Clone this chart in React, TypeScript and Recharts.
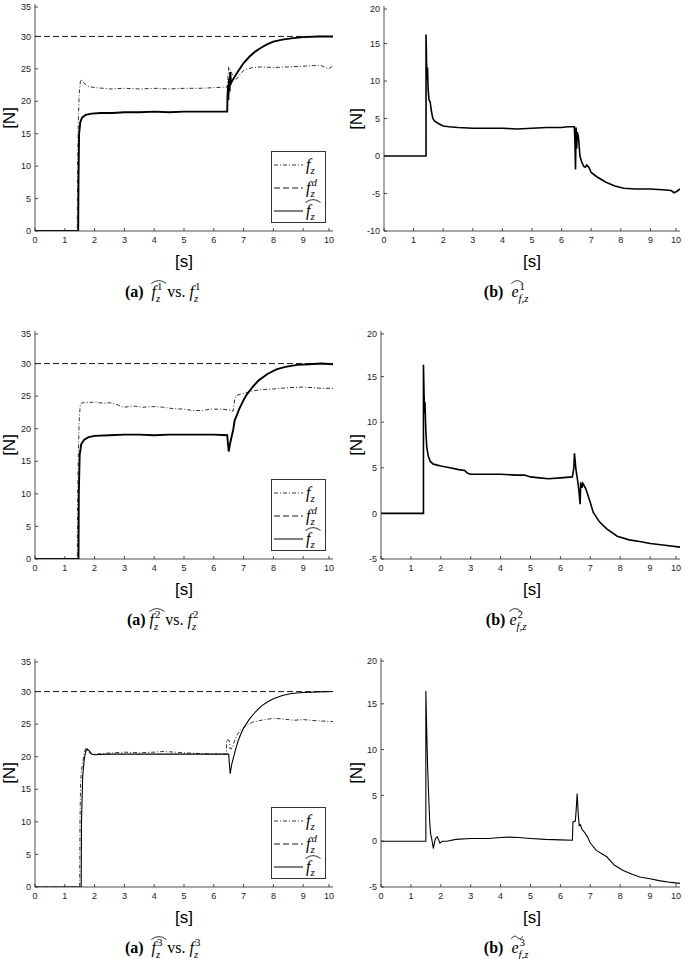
import React from 'react'
import { LineChart, Line, XAxis, YAxis, Legend } from 'recharts'

type Pt = [number, number]

// tick values
const X_TICKS = [0, 1, 2, 3, 4, 5, 6, 7, 8, 9, 10]
const F_TICKS = [0, 5, 10, 15, 20, 25, 30, 35]
const E1_TICKS = [-10, -5, 0, 5, 10, 15, 20]
const E23_TICKS = [-5, 0, 5, 10, 15, 20]

// desired force (same in all three left panels)
const fzDesired: Pt[] = [[0, 30], [10, 30]]

// ---- run 1 ----
const fzMeas1: Pt[] = [
  [0, 0], [1.42, 0], [1.43, 10], [1.45, 16], [1.48, 21], [1.52, 23], [1.55, 23.4], [1.6, 23.0],
  [1.7, 22.6], [1.8, 22.3], [2.0, 22.1], [2.3, 22.0], [2.5, 21.9], [3.0, 22.0], [3.5, 21.9],
  [4.0, 22.0], [4.5, 21.9], [5.0, 22.0], [5.5, 22.0], [6.0, 22.1], [6.45, 22.2], [6.47, 23.5],
  [6.5, 25.3], [6.58, 24.5], [6.68, 23.6], [6.76, 23.4], [6.9, 24.3], [7.05, 24.9], [7.3, 25.2],
  [7.6, 25.3], [8.0, 25.2], [8.5, 25.3], [9.0, 25.4], [9.3, 25.5], [9.6, 25.5], [9.75, 25.2],
  [9.85, 25.0], [9.95, 25.3], [10, 25.5],
]
const fzHat1: Pt[] = [
  [0, 0], [1.45, 0], [1.46, 8], [1.48, 15], [1.52, 16.8], [1.58, 17.5], [1.7, 17.9], [1.9, 18.1],
  [2.2, 18.2], [2.6, 18.2], [3.0, 18.3], [3.5, 18.3], [4.0, 18.4], [4.5, 18.3], [5.0, 18.4],
  [5.5, 18.4], [6.0, 18.4], [6.45, 18.4], [6.46, 20.8], [6.48, 22.5], [6.49, 20.2], [6.51, 23.5],
  [6.53, 21.5], [6.55, 24.5], [6.58, 22.8], [6.6, 23.0], [6.7, 23.8], [6.8, 24.5], [6.9, 25.2],
  [7.0, 25.9], [7.2, 26.9], [7.4, 27.7], [7.6, 28.3], [7.8, 28.8], [8.0, 29.2], [8.3, 29.5],
  [8.6, 29.7], [9.0, 29.9], [9.5, 30.0], [10, 30.0],
]
const err1: Pt[] = [
  [0, 0], [1.42, 0], [1.42, 16.2], [1.44, 12], [1.45, 10.2], [1.47, 11.8], [1.49, 9], [1.52, 7.5],
  [1.56, 7.2], [1.6, 6.0], [1.65, 5.0], [1.72, 4.6], [1.85, 4.3], [2.0, 4.0], [2.2, 3.9], [2.5, 3.8],
  [3.0, 3.7], [3.5, 3.7], [4.0, 3.7], [4.5, 3.6], [5.0, 3.7], [5.5, 3.8], [6.0, 3.8], [6.2, 3.9],
  [6.43, 3.9], [6.45, 2], [6.47, -1.8], [6.49, 3.8], [6.51, 1.0], [6.53, 3.2], [6.57, 2.5],
  [6.62, 0.0], [6.68, -0.8], [6.75, -1.4], [6.8, -1.5], [6.85, -1.2], [6.92, -1.5], [7.0, -2.2],
  [7.2, -2.8], [7.5, -3.5], [7.8, -4.0], [8.1, -4.3], [8.5, -4.4], [9.0, -4.4], [9.4, -4.5],
  [9.7, -4.6], [9.8, -4.9], [9.9, -4.7], [10, -4.4],
]

// ---- run 2 ----
const fzMeas2: Pt[] = [
  [0, 0], [1.42, 0], [1.43, 8], [1.45, 15], [1.48, 21], [1.52, 23.8], [1.6, 24.0], [1.8, 24.0],
  [2.0, 24.1], [2.3, 23.9], [2.5, 24.0], [2.7, 23.8], [2.9, 23.4], [3.0, 23.3], [3.3, 23.5],
  [3.6, 23.3], [4.0, 23.4], [4.3, 23.3], [4.6, 23.1], [5.0, 23.0], [5.3, 22.8], [5.6, 22.8],
  [5.9, 23.0], [6.2, 23.0], [6.5, 22.9], [6.65, 22.7], [6.7, 24.5], [6.75, 25.1], [6.9, 25.3],
  [7.0, 25.4], [7.3, 25.8], [7.6, 26.0], [8.0, 26.1], [8.5, 26.3], [9.0, 26.4], [9.3, 26.3],
  [9.6, 26.2], [10, 26.2],
]
const fzHat2: Pt[] = [
  [0, 0], [1.46, 0], [1.47, 10], [1.5, 16], [1.55, 17.6], [1.65, 18.3], [1.8, 18.7], [2.0, 18.9],
  [2.5, 19.0], [3.0, 19.1], [3.5, 19.1], [4.0, 19.0], [4.5, 19.1], [5.0, 19.1], [5.5, 19.1],
  [6.0, 19.1], [6.45, 19.0], [6.5, 16.5], [6.55, 17.8], [6.6, 18.8], [6.65, 19.8], [6.7, 21.3],
  [6.75, 21.8], [6.85, 23.0], [7.0, 24.4], [7.1, 25.2], [7.3, 26.4], [7.5, 27.4], [7.8, 28.4],
  [8.1, 29.1], [8.4, 29.5], [8.8, 29.8], [9.2, 29.9], [9.6, 30.0], [10, 29.9],
]
const err2: Pt[] = [
  [0, 0], [1.42, 0], [1.42, 16.3], [1.44, 13], [1.46, 11], [1.47, 12.2], [1.5, 9], [1.53, 7.3],
  [1.58, 6.3], [1.65, 5.7], [1.75, 5.4], [2.0, 5.2], [2.3, 5.0], [2.6, 4.8], [2.8, 4.7], [2.9, 4.4],
  [3.0, 4.3], [3.5, 4.3], [4.0, 4.3], [4.5, 4.2], [4.8, 4.2], [5.0, 4.0], [5.3, 3.9], [5.6, 3.8],
  [6.0, 3.9], [6.4, 4.0], [6.45, 5.0], [6.47, 6.6], [6.52, 4.8], [6.58, 3.5], [6.62, 2.5],
  [6.66, 1.0], [6.68, 3.4], [6.72, 2.8], [6.75, 3.3], [6.85, 2.7], [7.0, 1.2], [7.1, 0.1],
  [7.3, -0.9], [7.55, -1.7], [7.9, -2.5], [8.3, -2.9], [8.7, -3.1], [9.0, -3.3], [9.5, -3.5],
  [10, -3.7],
]

// ---- run 3 ----
const fzMeas3: Pt[] = [
  [0, 0], [1.5, 0], [1.51, 10], [1.53, 16], [1.56, 18], [1.6, 19], [1.65, 20.5], [1.7, 21.3],
  [1.75, 21.0], [1.8, 20.7], [1.9, 20.4], [2.0, 20.4], [2.3, 20.5], [2.6, 20.6], [3.0, 20.7],
  [3.5, 20.6], [4.0, 20.7], [4.3, 20.8], [4.7, 20.7], [5.0, 20.6], [5.5, 20.5], [6.0, 20.4],
  [6.42, 20.4], [6.43, 22.6], [6.52, 22.5], [6.55, 21.2], [6.62, 21.3], [6.7, 22.5], [6.8, 23.5],
  [6.9, 24.1], [7.1, 24.8], [7.3, 25.3], [7.6, 25.6], [8.0, 25.9], [8.3, 25.8], [8.7, 25.6],
  [9.0, 25.7], [9.5, 25.5], [10, 25.4],
]
const fzHat3: Pt[] = [
  [0, 0], [1.55, 0], [1.56, 10], [1.6, 17], [1.65, 19.5], [1.7, 20.8], [1.75, 21.2], [1.82, 20.9],
  [1.9, 20.4], [2.0, 20.3], [2.5, 20.4], [3.0, 20.4], [3.5, 20.4], [4.0, 20.4], [4.5, 20.4],
  [5.0, 20.4], [5.5, 20.4], [6.0, 20.4], [6.5, 20.4], [6.52, 19], [6.55, 17.4], [6.6, 18.8],
  [6.7, 20.6], [6.8, 22.2], [6.9, 23.4], [7.0, 24.4], [7.2, 25.8], [7.4, 26.9], [7.6, 27.8],
  [7.8, 28.4], [8.0, 28.9], [8.3, 29.4], [8.6, 29.7], [9.0, 29.85], [9.5, 29.95], [10, 30.0],
]
const err3: Pt[] = [
  [0, 0], [1.5, 0], [1.5, 16.4], [1.53, 12], [1.56, 8], [1.6, 4.5], [1.63, 2], [1.66, 0.8],
  [1.7, 0.2], [1.75, -0.8], [1.78, -0.3], [1.82, 0.3], [1.88, 0.5], [1.92, 0.2], [1.97, -0.2],
  [2.05, 0.0], [2.2, 0.0], [2.5, 0.2], [3.0, 0.3], [3.3, 0.3], [3.6, 0.3], [4.0, 0.4], [4.3, 0.45],
  [4.6, 0.4], [5.0, 0.3], [5.5, 0.2], [6.0, 0.15], [6.4, 0.1], [6.42, 2.1], [6.5, 2.2], [6.53, 3.5],
  [6.56, 5.2], [6.6, 2.8], [6.63, 1.7], [6.67, 1.8], [6.72, 1.3], [6.8, 1.0], [6.9, 0.5],
  [7.0, -0.2], [7.2, -1.0], [7.55, -1.7], [7.8, -2.6], [8.1, -3.2], [8.4, -3.6], [8.65, -3.9],
  [9.0, -4.1], [9.3, -4.3], [9.7, -4.5], [10, -4.6],
]

const SANS = '"Liberation Sans", Arial, sans-serif'
const SERIF = '"Liberation Serif", "Times New Roman", serif'
const AX = '#222'
const DASHDOT = '4 2 1 2'
const DASHED = '6 3'

interface Series { pts: Pt[]; dash?: string; width: number }
interface Box { x: number; y: number; w: number; h: number }

const toRows = (pts: Pt[]) => pts.map(([t, v]) => ({ t, v }))

function BottomTick({ x, y, payload }: any) {
  return (
    <g>
      <line x1={x} y1={y} x2={x} y2={y - 3} stroke={AX} strokeWidth={0.8} />
      <text x={x} y={y + 12} textAnchor="middle" fontSize={9} fontFamily={SANS} fill="#222">{payload.value}</text>
    </g>
  )
}
function TopTick({ x, y }: any) {
  return <line x1={x} y1={y} x2={x} y2={y + 3} stroke={AX} strokeWidth={0.8} />
}
function LeftTick({ x, y, payload }: any) {
  return (
    <g>
      <line x1={x} y1={y} x2={x + 3} y2={y} stroke={AX} strokeWidth={0.8} />
      <text x={x - 4} y={y} dy="0.35em" textAnchor="end" fontSize={9} fontFamily={SANS} fill="#222">{payload.value}</text>
    </g>
  )
}
function RightTick({ x, y }: any) {
  return <line x1={x} y1={y} x2={x - 3} y2={y} stroke={AX} strokeWidth={0.8} />
}

// italic symbol with stacked super/subscript and optional wide accent
function Sym({ base, sub, sup, accent, size = 16, upSup = false }: {
  base: string; sub?: string; sup?: string; accent?: 'hat' | 'tilde'; size?: number; upSup?: boolean
}) {
  const s = size * 0.68
  const chars = Math.max(sub ? sub.length : 0, sup ? sup.length : 0)
  const aw = size * (sub && sub.length > 1 ? 0.8 : 1.0)
  return (
    <span style={{ position: 'relative', display: 'inline-block', fontFamily: SERIF, fontSize: size, lineHeight: 1 }}>
      {accent && (
        <svg style={{ position: 'absolute', left: -1, top: -size * 0.3 }} width={aw} height={size * 0.3}>
          {accent === 'hat'
            ? <path d={`M0.5 ${size * 0.28} Q${aw / 2} ${-size * 0.08} ${aw - 0.5} ${size * 0.28}`} fill="none" stroke="#000" strokeWidth={0.8} />
            : <path d={`M0.5 ${size * 0.25} Q${aw / 4} ${-size * 0.05} ${aw / 2} ${size * 0.15} T${aw - 0.5} ${size * 0.05}`} fill="none" stroke="#000" strokeWidth={0.8} />}
        </svg>
      )}
      <i>{base}</i>
      <span style={{ position: 'relative', display: 'inline-block', width: s * 0.48 * chars + 2, height: size * 0.7 }}>
        {sup && (
          <span style={{ position: 'absolute', left: 1, top: -size * 0.3, fontSize: s, lineHeight: 1, fontStyle: upSup ? 'normal' : 'italic' }}>{sup}</span>
        )}
        {sub && (
          <span style={{ position: 'absolute', left: 0, top: size * 0.42, fontSize: s, lineHeight: 1, fontStyle: 'italic', whiteSpace: 'nowrap' }}>{sub}</span>
        )}
      </span>
    </span>
  )
}

function LegendBox() {
  const rows = [
    { dash: DASHDOT, w: 0.8, label: <Sym base="f" sub="z" size={16} /> },
    { dash: DASHED, w: 0.9, label: <Sym base="f" sub="z" sup="d" size={16} /> },
    { dash: undefined, w: 1, label: <Sym base="f" sub="z" accent="hat" size={16} /> },
  ]
  return (
    <div style={{ width: 55, height: 72, border: '1px solid #333', background: '#fff', boxSizing: 'border-box', paddingTop: 1 }}>
      {rows.map((r, i) => (
        <div key={i} style={{ height: 23, display: 'flex', alignItems: 'center' }}>
          <svg width={29} height={4} style={{ marginLeft: 2 }}>
            <line x1={0} y1={2} x2={29} y2={2} stroke="#000" strokeWidth={r.w} strokeDasharray={r.dash} />
          </svg>
          <span style={{ marginLeft: 3 }}>{r.label}</span>
        </div>
      ))}
    </div>
  )
}

const YW = 34
const MT = 6
const RM = 4
const XH = 20

function Panel({ box, yDomain, yTicks, series, legend }: {
  box: Box; yDomain: [number, number]; yTicks: number[]; series: Series[]; legend?: boolean
}) {
  return (
    <div style={{ position: 'absolute', left: box.x - YW, top: box.y - MT }}>
      <LineChart width={YW + box.w + RM} height={MT + box.h + XH} margin={{ top: MT, right: RM, left: 0, bottom: 0 }}>
        <XAxis xAxisId="b" type="number" dataKey="t" domain={[0, 10]} ticks={X_TICKS} allowDataOverflow
          height={XH} tickSize={0} tickMargin={0} tickLine={false} tick={(p: any) => <BottomTick {...p} />}
          axisLine={{ stroke: AX, strokeWidth: 0.8 }} />
        <XAxis xAxisId="t" orientation="top" type="number" dataKey="t" domain={[0, 10]} ticks={X_TICKS} allowDataOverflow
          height={0} tickSize={0} tickMargin={0} tickLine={false} tick={(p: any) => <TopTick {...p} />}
          axisLine={{ stroke: AX, strokeWidth: 0.8 }} />
        <YAxis yAxisId="l" type="number" domain={yDomain} ticks={yTicks} allowDataOverflow
          width={YW} tickSize={0} tickMargin={0} tickLine={false} tick={(p: any) => <LeftTick {...p} />}
          axisLine={{ stroke: AX, strokeWidth: 0.8 }} />
        <YAxis yAxisId="r" orientation="right" type="number" domain={yDomain} ticks={yTicks} allowDataOverflow
          width={0} tickSize={0} tickMargin={0} tickLine={false} tick={(p: any) => <RightTick {...p} />}
          axisLine={{ stroke: AX, strokeWidth: 0.8 }} />
        {series.map((s, i) => (
          <Line key={i} xAxisId="b" yAxisId="l" data={toRows(s.pts)} dataKey="v" type="linear"
            stroke="#000" strokeWidth={s.width} strokeDasharray={s.dash} dot={false}
            activeDot={false} isAnimationActive={false} />
        ))}
        {legend && (
          <Legend layout="vertical" align="center" verticalAlign="middle" content={() => <LegendBox />}
            wrapperStyle={{ left: YW + box.w - 7 - 55, top: MT + box.h - 8 - 72, width: 55, height: 72 }} />
        )}
      </LineChart>
    </div>
  )
}

function YLabel({ cx, cy }: { cx: number; cy: number }) {
  return (
    <div style={{ position: 'absolute', left: cx, top: cy, transform: 'translate(-50%, -50%) rotate(-90deg)', fontFamily: SANS, fontSize: 17, lineHeight: 1 }}>[N]</div>
  )
}
function XLabel({ cx, cy }: { cx: number; cy: number }) {
  return (
    <div style={{ position: 'absolute', left: cx, top: cy, transform: 'translate(-50%, -50%)', fontFamily: SANS, fontSize: 17, lineHeight: 1 }}>[s]</div>
  )
}
function Caption({ cx, cy, children }: { cx: number; cy: number; children: React.ReactNode }) {
  return (
    <div style={{ position: 'absolute', left: cx, top: cy, transform: 'translate(-50%, -50%)', fontFamily: SERIF, fontSize: 16, whiteSpace: 'nowrap', lineHeight: 1 }}>{children}</div>
  )
}

function forceSeries(meas: Pt[], hat: Pt[], hatWidth: number): Series[] {
  return [
    { pts: meas, dash: DASHDOT, width: 0.8 },
    { pts: fzDesired, dash: DASHED, width: 0.9 },
    { pts: hat, width: hatWidth },
  ]
}

export default function App() {
  const rows = [
    { y: 4, h: 227, ry: 6, rh: 225, rx: 384, rw: 296, eDomain: [-10, 20] as [number, number], eTicks: E1_TICKS, meas: fzMeas1, hat: fzHat1, err: err1, hw: 1.9, ew: 1.6, n: '1', gap: true, acc: 'hat' as const },
    { y: 331, h: 228, ry: 331, rh: 228, rx: 381, rw: 299, eDomain: [-5, 20] as [number, number], eTicks: E23_TICKS, meas: fzMeas2, hat: fzHat2, err: err2, hw: 1.9, ew: 1.6, n: '2', gap: false, acc: 'hat' as const },
    { y: 659, h: 228, ry: 658, rh: 229, rx: 381, rw: 299, eDomain: [-5, 20] as [number, number], eTicks: E23_TICKS, meas: fzMeas3, hat: fzHat3, err: err3, hw: 1.1, ew: 1.1, n: '3', gap: true, acc: 'tilde' as const },
  ]
  return (
    <div style={{ position: 'absolute', left: 0, top: 0, width: 685, height: 959, background: '#fff', overflow: 'hidden' }}>
      {rows.map((r, i) => {
        const lb: Box = { x: 35, y: r.y, w: 298, h: r.h }
        const rb: Box = { x: r.rx, y: r.ry, w: r.rw, h: r.rh }
        const xly = r.y + r.h + 30
        const capY = r.y + r.h + 61
        return (
          <React.Fragment key={i}>
            <Panel box={lb} yDomain={[0, 35]} yTicks={F_TICKS} series={forceSeries(r.meas, r.hat, r.hw)} legend />
            <Panel box={rb} yDomain={r.eDomain} yTicks={r.eTicks} series={[{ pts: r.err, width: r.ew }]} />
            <YLabel cx={9} cy={r.y + r.h / 2} />
            <YLabel cx={356} cy={r.ry + r.rh / 2} />
            <XLabel cx={184} cy={xly} />
            <XLabel cx={532} cy={xly} />
            <Caption cx={163} cy={capY}>
              <b>(a)</b>{r.gap ? '\u00a0\u00a0' : '\u00a0'}
              <Sym base="f" sub="z" sup={r.n} upSup accent="hat" /> vs. <Sym base="f" sub="z" sup={r.n} upSup />
            </Caption>
            <Caption cx={510} cy={capY}>
              <b>(b)</b>{r.gap ? '\u00a0\u00a0' : '\u00a0'}
              <Sym base="e" sub="f,z" sup={r.n} upSup accent={r.acc} />
            </Caption>
          </React.Fragment>
        )
      })}
    </div>
  )
}
